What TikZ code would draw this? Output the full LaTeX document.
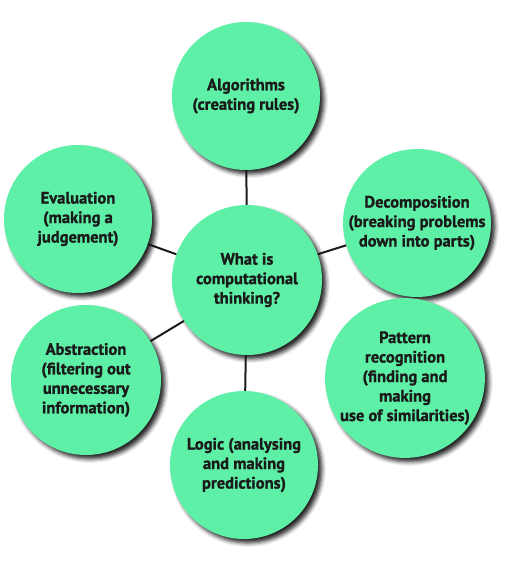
\documentclass[tikz,border=0pt]{standalone}
\usepackage{fontspec}
\setmainfont[BoldFeatures={FakeBold=1.2}]{PT Sans}
\usetikzlibrary{shadows.blur}
\definecolor{bubble}{HTML}{5EF0A6}
\definecolor{ink}{HTML}{1A1A1A}
\tikzset{
  bubble/.style={circle, fill=bubble, minimum size=#1, inner sep=0pt,
    align=center, text=ink, font=\bfseries\fontsize{16.5}{19.5}\selectfont,
    blur shadow={shadow xshift=4pt, shadow yshift=-4pt, shadow blur radius=4pt, shadow opacity=85}},
  bubble/.default=148pt,
  link/.style={draw=ink, line width=2pt}
}
\begin{document}
\begin{tikzpicture}[x=1pt,y=1pt]
\useasboundingbox (0,0) rectangle (512,-561);
\node[bubble] (alg) at (246,-96) {Algorithms\\(creating rules)};
\node[bubble] (eva) at (78,-219) {Evaluation\\(making a\\judgement)};
\node[bubble=148pt] (dec) at (417,-223) {Decomposition\\(breaking problems\\down into parts)};
\node[bubble=142pt] (pat) at (405,-378) {Pattern\\recognition\\(finding and\\making\\use of similarities)};
\node[bubble=150pt] (abs) at (86,-380) {Abstraction\\(filtering out\\unnecessary\\information)};
\node[bubble] (log) at (244,-465) {Logic (analysing\\and making\\predictions)};
\node[bubble=150pt] (ctr) at (247,-280) {What is\\computational\\thinking?};
\draw[link] (ctr) -- (alg);
\draw[link] (ctr) -- (log);
\draw[link] (ctr.160) -- (eva);
\draw[link] (ctr.20) -- (dec);
\draw[link] (ctr.213) -- (abs);
\end{tikzpicture}
\end{document}
